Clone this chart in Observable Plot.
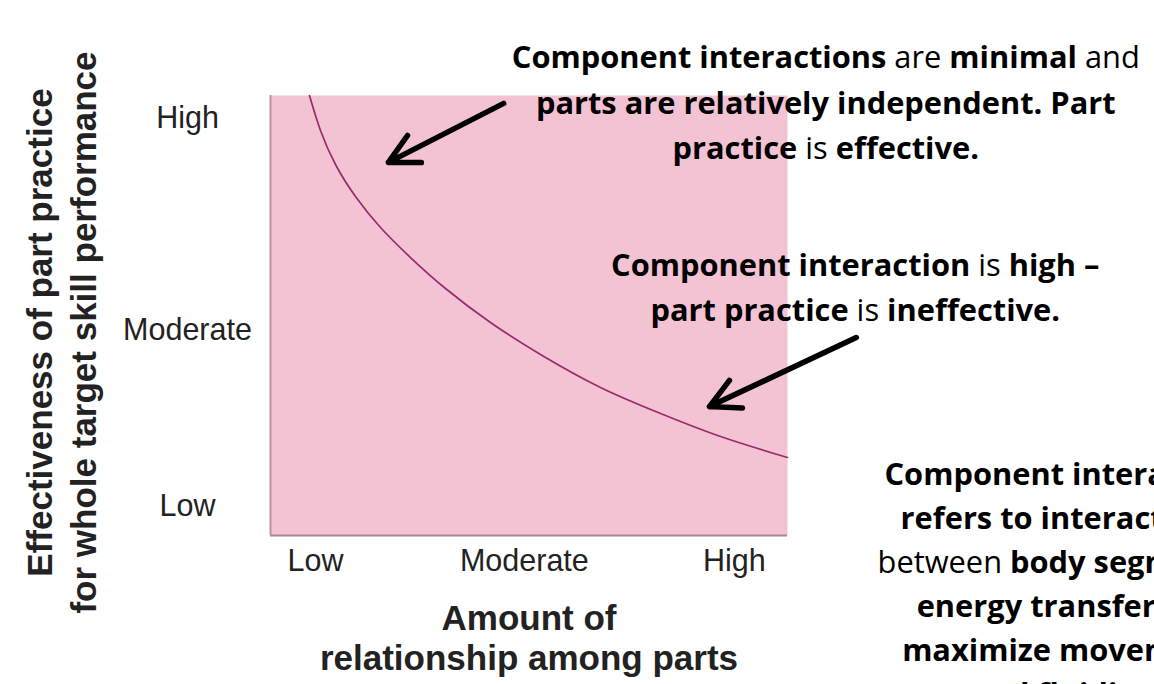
<!DOCTYPE html>
<html>
<head>
<meta charset="utf-8">
<script src="https://cdn.jsdelivr.net/npm/d3@7"></script>
<script src="https://cdn.jsdelivr.net/npm/@observablehq/plot@0.6"></script>
<style>
  html, body { margin: 0; padding: 0; background: #fff; overflow: hidden; }
  #chart { width: 1154px; height: 684px; overflow: hidden; }
</style>
</head>
<body>
<div id="chart"></div>
<script>
// ---- data ----
const tickLabels = ["Low", "Moderate", "High"];
const xTicks = [0.87, 4.91, 8.97];
const yTicks = [0.66, 4.66, 9.48];

const curveX = [0.754, 0.967, 1.257, 1.644, 2.128, 2.708, 3.385, 4.255, 5.222, 6.383, 7.544, 8.704, 10.0];
const curveY = [10.0, 9.205, 8.432, 7.705, 7.0, 6.318, 5.614, 4.841, 4.114, 3.364, 2.773, 2.25, 1.773];

const arrowX1 = [4.51, 11.33];
const arrowY1 = [9.82, 4.50];
const arrowX2 = [2.28, 8.49];
const arrowY2 = [8.48, 2.93];

const yTitle = "Effectiveness of part practice\nfor whole target skill performance";
const xTitle = "Amount of\nrelationship among parts";

const noteText1 = [
  "**Component interactions** are **minimal** and",
  "**parts are relatively independent. Part**",
  "**practice** is **effective.**"
];
const noteText2 = [
  "**Component interaction** is **high –**",
  "**part practice** is **ineffective.**"
];
const noteText3 = [
  "**Component interaction**",
  "**refers to interactions**",
  "between **body segments,**",
  "**energy transfers to**",
  "**maximize movement**",
  "**and fluidity.**"
];
const noteX = [10.75, 11.32, 15.36];
const noteY = [10.61, 5.89, 1.14];

// ---- build ----
const curve = curveX.map((x, i) => ({x, y: curveY[i]}));
const arrows = arrowX1.map((x1, i) => ({x1, y1: arrowY1[i], x2: arrowX2[i], y2: arrowY2[i]}));
const notes = [noteText1, noteText2, noteText3].map((lines, i) => ({lines, x: noteX[i], y: noteY[i]}));
const labelOfX = new Map(xTicks.map((v, i) => [v, tickLabels[i]]));
const labelOfY = new Map(yTicks.map((v, i) => [v, tickLabels[i]]));

const noteFont = "'Open Sans', Lato, sans-serif";
const noteSize = 30.8;
const noteLineGap = [45.5, 45.5, 44];

function notesMark(index, scales) {
  const g = d3.create("svg:g")
    .attr("font-family", noteFont)
    .attr("font-size", noteSize)
    .attr("fill", "#000");
  notes.forEach((n, k) => {
    const cx = scales.x(n.x), by = scales.y(n.y);
    n.lines.forEach((line, i) => {
      const t = g.append("text")
        .attr("x", cx)
        .attr("y", by + i * noteLineGap[k])
        .attr("text-anchor", "middle");
      line.split(/\*\*(.+?)\*\*/).forEach((seg, j) => {
        if (!seg) return;
        t.append("tspan")
          .attr("font-weight", j % 2 === 1 ? "bold" : "normal")
          .text(seg);
      });
    });
  });
  return g.node();
}

const chart = Plot.plot({
  width: 1154,
  height: 684,
  marginLeft: 270,
  marginRight: 367,
  marginTop: 95,
  marginBottom: 149,
  style: {fontFamily: "'Liberation Sans', Arial, sans-serif", background: "#fff", overflow: "visible"},
  x: {domain: [0, 10]},
  y: {domain: [0, 10]},
  marks: [
    Plot.frame({fill: "#f4c3d3", stroke: null}),
    Plot.ruleX([0], {stroke: "#b8949f", strokeWidth: 2}),
    Plot.ruleY([0], {stroke: "#ab8893", strokeWidth: 2}),
    Plot.line(curve, {x: "x", y: "y", curve: "natural", stroke: "#9a2a6b", strokeWidth: 1.7}),
    Plot.axisX(xTicks, {tickSize: 0, tickPadding: 14, tickFormat: d => labelOfX.get(d), fontSize: 30.5, fill: "#222", label: null}),
    Plot.axisY(yTicks, {tickSize: 0, tickPadding: 83, textAnchor: "middle", tickFormat: d => labelOfY.get(d), fontSize: 30.5, fill: "#222", label: null}),
    Plot.text([yTitle], {frameAnchor: "left", rotate: -90, dx: -211, dy: 17, fontSize: 35, fontWeight: "bold", lineHeight: 1.26, lineAnchor: "middle", textAnchor: "middle", fill: "#222"}),
    Plot.text([xTitle], {frameAnchor: "bottom", dy: 67, fontSize: 35, fontWeight: "bold", lineHeight: 1.12, lineAnchor: "top", textAnchor: "middle", fill: "#222"}),
    Plot.arrow(arrows, {x1: "x1", y1: "y1", x2: "x2", y2: "y2", stroke: "#000", strokeWidth: 5.5, headLength: 9, headAngle: 55}),
    notesMark
  ]
});
document.getElementById("chart").appendChild(chart);
</script>
</body>
</html>
